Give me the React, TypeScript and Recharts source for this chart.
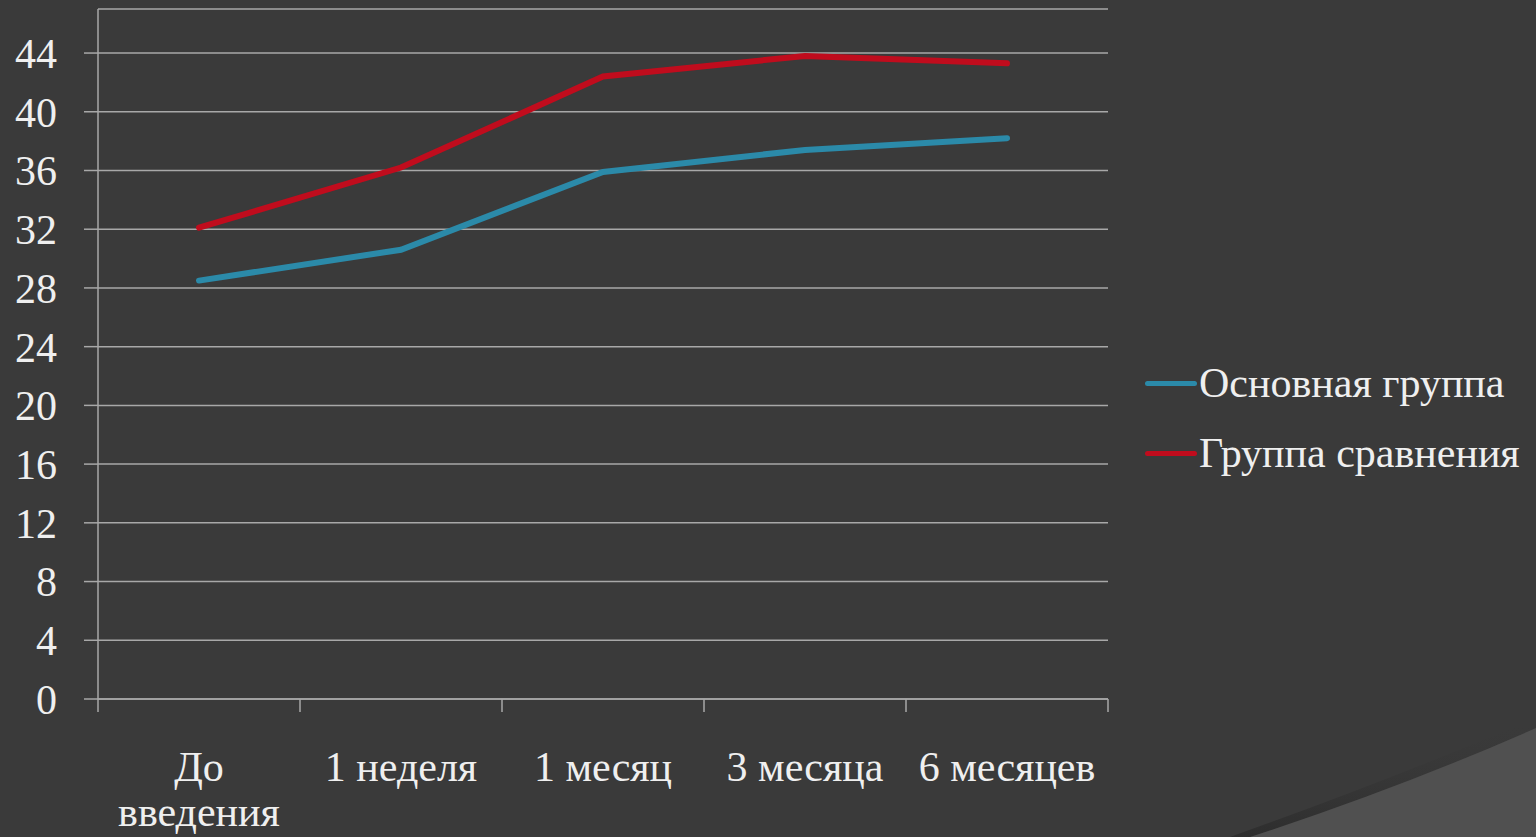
import React from 'react';
import { LineChart, Line, XAxis, YAxis, CartesianGrid, Legend } from 'recharts';

const categories = ['До введения', '1 неделя', '1 месяц', '3 месяца', '6 месяцев'];
const categoryTickLines = [['До', 'введения'], ['1 неделя'], ['1 месяц'], ['3 месяца'], ['6 месяцев']];
const mainGroup = [28.5, 30.6, 35.9, 37.4, 38.2];
const comparisonGroup = [32.1, 36.2, 42.4, 43.8, 43.3];
const seriesNames = ['Основная группа', 'Группа сравнения'];
const yTicks = [0, 4, 8, 12, 16, 20, 24, 28, 32, 36, 40, 44];

const data = categories.map((name, i) => ({ name, main: mainGroup[i], comp: comparisonGroup[i] }));

const FONT = '"Liberation Serif", Tinos, "Times New Roman", Times, "DejaVu Serif", "Noto Serif", serif';
const TEXT = '#efefef';
const GRID = '#a8a8a8';
const BLUE = '#2b8aa9';
const RED = '#c00c1d';
const COLORS = [BLUE, RED];

const W = 1536;
const H = 837;
const PLOT_LEFT = 98;
const PLOT_RIGHT = 1108;
const BAND = (PLOT_RIGHT - PLOT_LEFT) / categories.length;

const XTick = (props: any) => {
  const { x, y, index } = props;
  const last = index === categories.length - 1;
  const lines = categoryTickLines[index] || [];
  return (
    <g>
      <line x1={x - BAND / 2} x2={x - BAND / 2} y1={y} y2={y + 13} stroke={GRID} strokeWidth={1.5} />
      {last && <line x1={x + BAND / 2} x2={x + BAND / 2} y1={y} y2={y + 13} stroke={GRID} strokeWidth={1.5} />}
      <text x={x} y={y + 82} textAnchor="middle" fill={TEXT} fontFamily={FONT} fontSize={42}>
        {lines.map((l: string, i: number) => (
          <tspan key={i} x={x} dy={i === 0 ? 0 : 45}>{l}</tspan>
        ))}
      </text>
    </g>
  );
};

const LegendContent = () => (
  <div style={{ fontFamily: FONT, fontSize: 42, color: TEXT }}>
    {seriesNames.map((n, i) => (
      <div key={n} style={{ display: 'flex', alignItems: 'center', height: 70, whiteSpace: 'nowrap' }}>
        <span style={{ display: 'inline-block', width: 52, height: 5, background: COLORS[i], marginRight: 2, borderRadius: 3 }} />
        <span>{n}</span>
      </div>
    ))}
  </div>
);

export default function App() {
  return (
    <div style={{ position: 'absolute', left: 0, top: 0, width: W, height: H, background: '#3a3a3a', overflow: 'hidden' }}>
      <svg width={W} height={H} style={{ position: 'absolute', left: 0, top: 0 }}>
        <defs>
          <linearGradient id="sh" x1="0" y1="1" x2="0" y2="0">
            <stop offset="0" stopColor="#2c2c2c" stopOpacity="0.9" />
            <stop offset="1" stopColor="#3a3a3a" stopOpacity="0" />
          </linearGradient>
        </defs>
        <path d="M1230,837 Q1390,780 1536,718 L1536,837 Z" fill="url(#sh)" />
        <path d="M1250,837 Q1400,788 1536,728 L1536,837 Z" fill="#505050" />
      </svg>
      <div style={{ position: 'absolute', left: 0, top: 0 }}>
        <LineChart width={W} height={H} data={data} margin={{ top: 9, right: W - PLOT_RIGHT, bottom: 0, left: 0 }}>
          <CartesianGrid vertical={false} stroke={GRID} strokeWidth={1.5} />
          <XAxis
            dataKey="name"
            height={138}
            tickSize={0}
            tickMargin={0}
            tickLine={false}
            padding={{ left: BAND / 2, right: BAND / 2 }}
            axisLine={{ stroke: GRID, strokeWidth: 1.5 }}
            tick={<XTick />}
            interval={0}
          />
          <YAxis
            width={PLOT_LEFT}
            domain={[0, 47]}
            ticks={yTicks}
            tickSize={14}
            tickMargin={27}
            axisLine={{ stroke: GRID, strokeWidth: 1.5 }}
            tickLine={{ stroke: GRID, strokeWidth: 1.5 }}
            tick={{ fill: TEXT, fontSize: 42, fontFamily: FONT }}
            allowDataOverflow
          />
          <Legend
            layout="vertical"
            align="center"
            verticalAlign="middle"
            wrapperStyle={{ left: 1145, top: 348, width: 391 }}
            content={<LegendContent />}
          />
          <Line type="linear" dataKey="main" name={seriesNames[0]} stroke={BLUE} strokeWidth={6} dot={false} strokeLinecap="round" isAnimationActive={false} />
          <Line type="linear" dataKey="comp" name={seriesNames[1]} stroke={RED} strokeWidth={6} dot={false} strokeLinecap="round" isAnimationActive={false} />
        </LineChart>
      </div>
    </div>
  );
}
